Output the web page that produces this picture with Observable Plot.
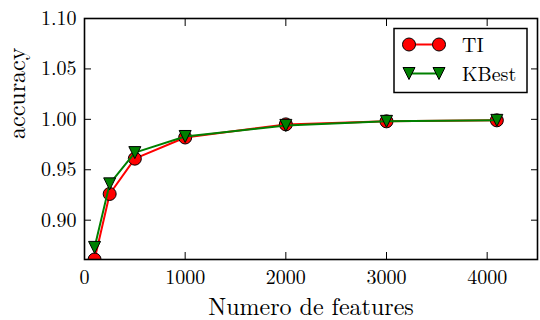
<!DOCTYPE html>
<html>
<head>
<meta charset="utf-8">
<script src="https://cdn.jsdelivr.net/npm/d3@7"></script>
<script src="https://cdn.jsdelivr.net/npm/@observablehq/plot@0.6"></script>
<style>
  html, body { margin: 0; padding: 0; background: white; }
  #chart { width: 540px; height: 320px; }
</style>
</head>
<body>
<div id="chart"></div>
<script>
const featureCounts = [100, 250, 500, 1000, 2000, 3000, 4096];
const tiAccuracy = [0.861, 0.926, 0.961, 0.982, 0.995, 0.998, 0.999];
const kbestAccuracy = [0.873, 0.936, 0.967, 0.983, 0.994, 0.998, 0.999];
const seriesNames = ["TI", "KBest"];
const seriesColors = ["#ff0000", "#008000"];
const xTicks = [0, 1000, 2000, 3000, 4000];
const yTicks = [0.90, 0.95, 1.00, 1.05, 1.10];
const xTitle = "Numero de features";
const yTitle = "accuracy";

const rows = featureCounts.map((f, i) => ({features: f, ti: tiAccuracy[i], kbest: kbestAccuracy[i]}));

// matplotlib-like "v" marker (downward triangle)
const triangleDown = {
  draw(context, size) {
    const h = Math.sqrt(size) / 2;
    context.moveTo(0, h);
    context.lineTo(-h, -h);
    context.lineTo(h, -h);
    context.closePath();
  }
};
const triR = Math.sqrt(144 / Math.PI);
const font = "Latin Modern Roman";

const ml = 84, mr = 3, mt = 18, mb = 61, W = 540, H = 320;

const chart = Plot.plot({
  width: W,
  height: H,
  marginLeft: ml,
  marginRight: mr,
  marginTop: mt,
  marginBottom: mb,
  style: {fontFamily: font, fontSize: "20px", background: "white", color: "black", overflow: "visible"},
  x: {domain: [0, 4500]},
  y: {domain: [0.861, 1.10]},
  marks: [
    // tick labels
    Plot.axisX({ticks: xTicks, tickSize: 0, tickPadding: 10, label: null, fontSize: 20, fontFamily: font, tickFormat: d => String(d)}),
    Plot.axisY({ticks: yTicks, tickSize: 0, tickPadding: 8, label: null, fontSize: 20, fontFamily: font, tickFormat: d3.format(".2f")}),
    // inward ticks on all four sides
    Plot.axisX({ticks: xTicks, anchor: "bottom", tickSize: -7, tickFormat: () => "", label: null, strokeWidth: 1}),
    Plot.axisX({ticks: xTicks, anchor: "top", tickSize: -7, tickFormat: () => "", label: null, strokeWidth: 1}),
    Plot.axisY({ticks: yTicks, anchor: "left", tickSize: -7, tickFormat: () => "", label: null, strokeWidth: 1}),
    Plot.axisY({ticks: yTicks, anchor: "right", tickSize: -7, tickFormat: () => "", label: null, strokeWidth: 1}),
    // axis titles
    Plot.text([xTitle], {frameAnchor: "bottom", dy: 48, fontSize: 24, fontFamily: font, lineAnchor: "middle"}),
    Plot.text([yTitle], {frameAnchor: "left", dx: -67, rotate: -90, fontSize: 24, fontFamily: font, lineAnchor: "middle"}),
    // series TI
    Plot.line(rows, {x: "features", y: "ti", stroke: seriesColors[0], strokeWidth: 2}),
    Plot.dot(rows, {x: "features", y: "ti", r: 6.5, fill: seriesColors[0], stroke: "black", strokeWidth: 1}),
    // series KBest
    Plot.line(rows, {x: "features", y: "kbest", stroke: seriesColors[1], strokeWidth: 2}),
    Plot.dot(rows, {x: "features", y: "kbest", r: triR, symbol: triangleDown, fill: seriesColors[1], stroke: "black", strokeWidth: 1}),
    Plot.frame({stroke: "black", strokeWidth: 1.6})
  ]
});

const svg = d3.select(chart);
// clip the data marks to the axes area (like matplotlib)
const clipId = "axes-clip";
svg.insert("defs", ":first-child").append("clipPath").attr("id", clipId)
  .append("rect").attr("x", ml).attr("y", mt).attr("width", W - ml - mr).attr("height", H - mt - mb);
svg.selectAll("g[aria-label='line'], g[aria-label='dot']").attr("clip-path", `url(#${clipId})`);

// legend (inside the axes, upper right)
const lg = svg.append("g").attr("font-family", font).attr("text-anchor", "start");
lg.append("rect").attr("x", 394).attr("y", 28.5).attr("width", 133).attr("height", 64)
  .attr("fill", "white").attr("stroke", "black").attr("stroke-width", 1.5);
const sym = d3.symbol().type(triangleDown).size(144);
seriesNames.forEach((name, i) => {
  const cy = 44.5 + i * 29;
  const g = lg.append("g");
  g.append("line").attr("x1", 409).attr("x2", 439).attr("y1", cy).attr("y2", cy)
    .attr("stroke", seriesColors[i]).attr("stroke-width", 2);
  [409, 439].forEach(cx => {
    if (i === 0) {
      g.append("circle").attr("cx", cx).attr("cy", cy).attr("r", 6.5)
        .attr("fill", seriesColors[i]).attr("stroke", "black").attr("stroke-width", 1);
    } else {
      g.append("path").attr("d", sym()).attr("transform", `translate(${cx},${cy})`)
        .attr("fill", seriesColors[i]).attr("stroke", "black").attr("stroke-width", 1);
    }
  });
  g.append("text").attr("x", 462).attr("y", cy).attr("dy", "0.35em")
    .attr("font-size", 20).attr("font-family", font).attr("fill", "black").attr("text-anchor", "start").text(name);
});

document.getElementById("chart").appendChild(chart);
</script>
</body>
</html>
